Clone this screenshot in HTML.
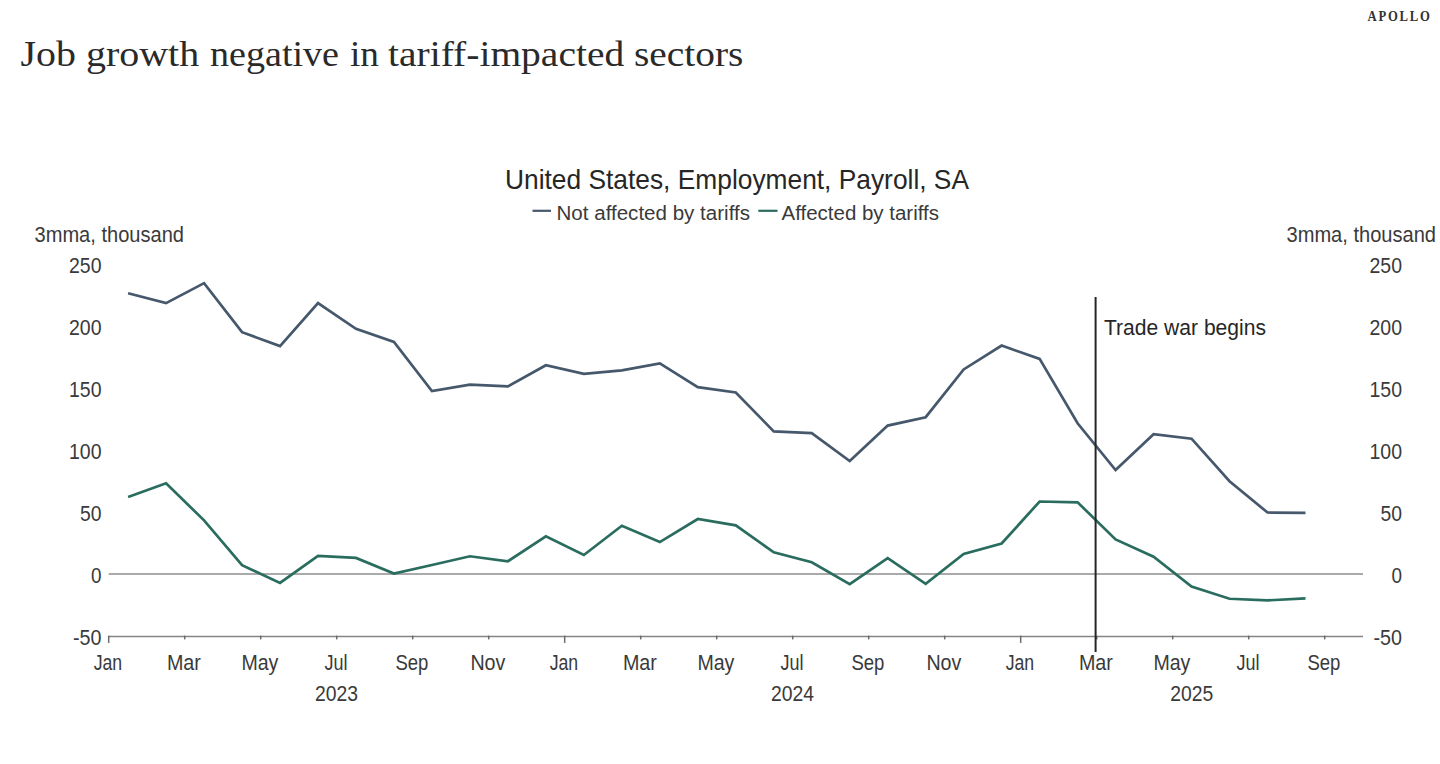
<!DOCTYPE html>
<html><head><meta charset="utf-8"><title>Job growth negative in tariff-impacted sectors</title>
<style>
html,body{margin:0;padding:0;background:#fff;width:1440px;height:764px;overflow:hidden}
svg{position:absolute;left:0;top:0;display:block}
text{font-family:"Liberation Sans",sans-serif;font-size:21.5px;fill:#3a3a3a}
</style></head><body>
<svg width="1440" height="764" viewBox="0 0 1440 764">
<line x1="108.7" y1="574.0" x2="1363" y2="574.0" stroke="#aaaaaa" stroke-width="1.9"/>
<line x1="108.7" y1="636.4" x2="1363" y2="636.4" stroke="#858585" stroke-width="1.5"/>
<line x1="108.7" y1="635.65" x2="108.7" y2="642.9" stroke="#6a6a6a" stroke-width="1.5"/>
<text x="107.9" y="670" text-anchor="middle" textLength="28.5" lengthAdjust="spacingAndGlyphs">Jan</text>
<line x1="184.7" y1="635.65" x2="184.7" y2="639.4" stroke="#6a6a6a" stroke-width="1.5"/>
<text x="183.9" y="670" text-anchor="middle" textLength="34" lengthAdjust="spacingAndGlyphs">Mar</text>
<line x1="260.7" y1="635.65" x2="260.7" y2="639.4" stroke="#6a6a6a" stroke-width="1.5"/>
<text x="259.9" y="670" text-anchor="middle" textLength="37" lengthAdjust="spacingAndGlyphs">May</text>
<line x1="336.7" y1="635.65" x2="336.7" y2="639.4" stroke="#6a6a6a" stroke-width="1.5"/>
<text x="335.9" y="670" text-anchor="middle" textLength="23" lengthAdjust="spacingAndGlyphs">Jul</text>
<line x1="412.7" y1="635.65" x2="412.7" y2="639.4" stroke="#6a6a6a" stroke-width="1.5"/>
<text x="411.9" y="670" text-anchor="middle" textLength="33" lengthAdjust="spacingAndGlyphs">Sep</text>
<line x1="488.7" y1="635.65" x2="488.7" y2="639.4" stroke="#6a6a6a" stroke-width="1.5"/>
<text x="487.9" y="670" text-anchor="middle" textLength="35" lengthAdjust="spacingAndGlyphs">Nov</text>
<line x1="564.7" y1="635.65" x2="564.7" y2="642.9" stroke="#6a6a6a" stroke-width="1.5"/>
<text x="563.9" y="670" text-anchor="middle" textLength="28.5" lengthAdjust="spacingAndGlyphs">Jan</text>
<line x1="640.7" y1="635.65" x2="640.7" y2="639.4" stroke="#6a6a6a" stroke-width="1.5"/>
<text x="639.9" y="670" text-anchor="middle" textLength="34" lengthAdjust="spacingAndGlyphs">Mar</text>
<line x1="716.7" y1="635.65" x2="716.7" y2="639.4" stroke="#6a6a6a" stroke-width="1.5"/>
<text x="715.9" y="670" text-anchor="middle" textLength="37" lengthAdjust="spacingAndGlyphs">May</text>
<line x1="792.7" y1="635.65" x2="792.7" y2="639.4" stroke="#6a6a6a" stroke-width="1.5"/>
<text x="791.9" y="670" text-anchor="middle" textLength="23" lengthAdjust="spacingAndGlyphs">Jul</text>
<line x1="868.7" y1="635.65" x2="868.7" y2="639.4" stroke="#6a6a6a" stroke-width="1.5"/>
<text x="867.9" y="670" text-anchor="middle" textLength="33" lengthAdjust="spacingAndGlyphs">Sep</text>
<line x1="944.7" y1="635.65" x2="944.7" y2="639.4" stroke="#6a6a6a" stroke-width="1.5"/>
<text x="943.9" y="670" text-anchor="middle" textLength="35" lengthAdjust="spacingAndGlyphs">Nov</text>
<line x1="1020.7" y1="635.65" x2="1020.7" y2="642.9" stroke="#6a6a6a" stroke-width="1.5"/>
<text x="1019.9" y="670" text-anchor="middle" textLength="28.5" lengthAdjust="spacingAndGlyphs">Jan</text>
<line x1="1096.7" y1="635.65" x2="1096.7" y2="639.4" stroke="#6a6a6a" stroke-width="1.5"/>
<text x="1095.9" y="670" text-anchor="middle" textLength="34" lengthAdjust="spacingAndGlyphs">Mar</text>
<line x1="1172.7" y1="635.65" x2="1172.7" y2="639.4" stroke="#6a6a6a" stroke-width="1.5"/>
<text x="1171.9" y="670" text-anchor="middle" textLength="37" lengthAdjust="spacingAndGlyphs">May</text>
<line x1="1248.7" y1="635.65" x2="1248.7" y2="639.4" stroke="#6a6a6a" stroke-width="1.5"/>
<text x="1247.9" y="670" text-anchor="middle" textLength="23" lengthAdjust="spacingAndGlyphs">Jul</text>
<line x1="1324.7" y1="635.65" x2="1324.7" y2="639.4" stroke="#6a6a6a" stroke-width="1.5"/>
<text x="1323.9" y="670" text-anchor="middle" textLength="33" lengthAdjust="spacingAndGlyphs">Sep</text>
<text x="336.5" y="701" text-anchor="middle" textLength="43" lengthAdjust="spacingAndGlyphs">2023</text>
<text x="792.5" y="701" text-anchor="middle" textLength="43" lengthAdjust="spacingAndGlyphs">2024</text>
<text x="1191.75" y="701" text-anchor="middle" textLength="43" lengthAdjust="spacingAndGlyphs">2025</text>
<text x="101.5" y="272.9" text-anchor="end" textLength="32.5" lengthAdjust="spacingAndGlyphs">250</text>
<text x="1402" y="272.9" text-anchor="end" textLength="32.5" lengthAdjust="spacingAndGlyphs">250</text>
<text x="101.5" y="334.9" text-anchor="end" textLength="32.5" lengthAdjust="spacingAndGlyphs">200</text>
<text x="1402" y="334.9" text-anchor="end" textLength="32.5" lengthAdjust="spacingAndGlyphs">200</text>
<text x="101.5" y="397.0" text-anchor="end" textLength="32.5" lengthAdjust="spacingAndGlyphs">150</text>
<text x="1402" y="397.0" text-anchor="end" textLength="32.5" lengthAdjust="spacingAndGlyphs">150</text>
<text x="101.5" y="459.0" text-anchor="end" textLength="32.5" lengthAdjust="spacingAndGlyphs">100</text>
<text x="1402" y="459.0" text-anchor="end" textLength="32.5" lengthAdjust="spacingAndGlyphs">100</text>
<text x="101.5" y="521.0" text-anchor="end" textLength="21.5" lengthAdjust="spacingAndGlyphs">50</text>
<text x="1402" y="521.0" text-anchor="end" textLength="21.5" lengthAdjust="spacingAndGlyphs">50</text>
<text x="101.5" y="583.0" text-anchor="end" textLength="10.5" lengthAdjust="spacingAndGlyphs">0</text>
<text x="1402" y="583.0" text-anchor="end" textLength="10.5" lengthAdjust="spacingAndGlyphs">0</text>
<text x="101.5" y="645.0" text-anchor="end" textLength="28.5" lengthAdjust="spacingAndGlyphs">-50</text>
<text x="1402" y="645.0" text-anchor="end" textLength="28.5" lengthAdjust="spacingAndGlyphs">-50</text>
<text x="34.5" y="242" textLength="149.5" lengthAdjust="spacingAndGlyphs">3mma, thousand</text>
<text x="1286.5" y="242" textLength="149.5" lengthAdjust="spacingAndGlyphs">3mma, thousand</text>
<path d="M128.10,293.30 L166.08,303.10 L204.06,283.10 L242.04,332.20 L280.02,346.10 L318.00,303.10 L355.98,328.90 L393.96,341.90 L431.94,391.10 L469.92,384.70 L507.90,386.40 L545.88,365.30 L583.86,373.90 L621.84,370.30 L659.82,363.30 L697.80,387.20 L735.78,392.50 L773.76,431.40 L811.74,433.20 L849.72,461.10 L887.70,425.60 L925.68,417.20 L963.66,369.40 L1001.64,345.60 L1039.62,358.90 L1077.60,423.30 L1115.58,470.00 L1153.56,434.20 L1191.54,438.70 L1229.52,481.25 L1267.50,512.50 L1305.48,512.90" fill="none" stroke="#46586c" stroke-width="2.7" stroke-linejoin="miter" stroke-linecap="butt"/>
<path d="M128.10,497.10 L166.08,483.30 L204.06,520.40 L242.04,565.20 L280.02,582.90 L318.00,555.80 L355.98,557.90 L393.96,573.60 L431.94,565.00 L469.92,556.25 L507.90,561.25 L545.88,536.25 L583.86,555.00 L621.84,525.80 L659.82,542.10 L697.80,519.00 L735.78,525.40 L773.76,552.30 L811.74,562.30 L849.72,584.20 L887.70,558.10 L925.68,583.75 L963.66,554.00 L1001.64,543.50 L1039.62,501.50 L1077.60,502.30 L1115.58,539.40 L1153.56,556.70 L1191.54,586.50 L1229.52,598.75 L1267.50,600.40 L1305.48,598.30" fill="none" stroke="#2a6d5f" stroke-width="2.7" stroke-linejoin="miter" stroke-linecap="butt"/>
<line x1="1095.6" y1="297" x2="1095.6" y2="652" stroke="#252525" stroke-width="2"/>
<text x="1104" y="334.7" style="font-size:21.5px;fill:#262626" textLength="162" lengthAdjust="spacingAndGlyphs">Trade war begins</text>
<text x="505" y="189.3" style="font-size:28.5px;fill:#262626" textLength="464" lengthAdjust="spacingAndGlyphs">United States, Employment, Payroll, SA</text>
<line x1="532.5" y1="210.8" x2="551" y2="210.8" stroke="#46586c" stroke-width="2.2"/>
<text x="556.5" y="220.3" style="font-size:20px" textLength="193.5" lengthAdjust="spacingAndGlyphs">Not affected by tariffs</text>
<line x1="758.3" y1="210.8" x2="777.5" y2="210.8" stroke="#2a6d5f" stroke-width="2.2"/>
<text x="781.5" y="220.3" style="font-size:20px" textLength="157.5" lengthAdjust="spacingAndGlyphs">Affected by tariffs</text>
<text x="20.60" y="65.8" style="font-family:&quot;Liberation Serif&quot;,serif;font-size:36.5px;fill:#2a2a2a" textLength="55.40" lengthAdjust="spacingAndGlyphs">Job</text>
<text x="86.00" y="65.8" style="font-family:&quot;Liberation Serif&quot;,serif;font-size:36.5px;fill:#2a2a2a" textLength="113.20" lengthAdjust="spacingAndGlyphs">growth</text>
<text x="210.00" y="65.8" style="font-family:&quot;Liberation Serif&quot;,serif;font-size:36.5px;fill:#2a2a2a" textLength="129.00" lengthAdjust="spacingAndGlyphs">negative</text>
<text x="350.00" y="65.8" style="font-family:&quot;Liberation Serif&quot;,serif;font-size:36.5px;fill:#2a2a2a" textLength="29.00" lengthAdjust="spacingAndGlyphs">in</text>
<text x="388.00" y="65.8" style="font-family:&quot;Liberation Serif&quot;,serif;font-size:36.5px;fill:#2a2a2a" textLength="236.20" lengthAdjust="spacingAndGlyphs">tariff-impacted</text>
<text x="634.00" y="65.8" style="font-family:&quot;Liberation Serif&quot;,serif;font-size:36.5px;fill:#2a2a2a" textLength="109.40" lengthAdjust="spacingAndGlyphs">sectors</text>
<text x="0" y="0" transform="translate(1367.5,20.6) scale(0.87,1)" style="font-family:&quot;Liberation Serif&quot;,serif;font-weight:bold;font-size:14.6px;letter-spacing:2px;fill:#333">APOLLO</text>
</svg>
</body></html>
